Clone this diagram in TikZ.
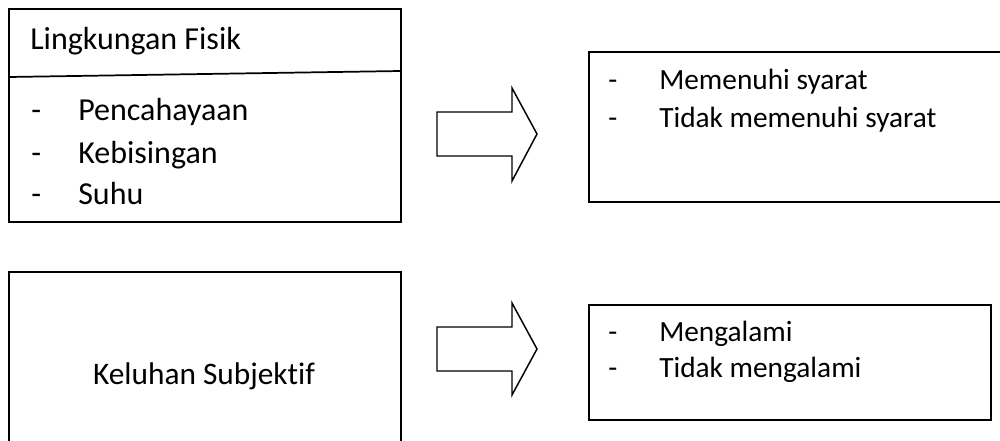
\documentclass[tikz,border=0pt]{standalone}
\usepackage{fontspec}
\setmainfont{Carlito}[Ligatures=NoCommon]
\begin{document}
\begin{tikzpicture}[x=0.75pt,y=-0.75pt,
  boxline/.style={line width=1.3pt,draw=black},
  txt/.style={anchor=base west,inner sep=0pt,font=\fontsize{24}{28}\selectfont},
  txtr/.style={anchor=base west,inner sep=0pt,font=\fontsize{22}{26}\selectfont},
  bigarrow/.style={line width=1.1pt,draw=black,fill=white,line join=miter}]
\useasboundingbox (0,0) rectangle (1000,441);
% Box 1
\draw[boxline] (9,9) rectangle (401,222);
\coordinate (d1) at (9,77);
\coordinate (d2) at (401,71);
\draw[boxline] (d1) -- (d2);
\node[txt] (t1) at (30,50) {Lingkungan Fisik};
\node[txt] (b1) at (31,121) {-};
\node[txt] (i1) at (78,121) {Pencahayaan};
\node[txt] (b2) at (31,164) {-};
\node[txt] (i2) at (78,164) {Kebisingan};
\node[txt] (b3) at (31,205) {-};
\node[txt] (i3) at (78,205) {Suhu};
% Arrow 1
\draw[bigarrow] (437,112) -- (512,112) -- (512,88) -- (537,134) -- (512,181) -- (512,156) -- (437,156) -- cycle;
% Box 2
\draw[boxline] (1003,52) -- (589,52) -- (589,202) -- (1003,202);
\node[txtr] (b4) at (608,90) {-};
\node[txtr] (i4) at (659,90) {Memenuhi syarat};
\node[txtr] (b5) at (608,128) {-};
\node[txtr] (i5) at (659,128) {Tidak memenuhi syarat};
% Box 3
\draw[boxline] (9,445) -- (9,272) -- (401,272) -- (401,445);
\node[txt,anchor=base,font=\fontsize{23.5}{28}\selectfont] (t3) at (204,385) {Keluhan Subjektif};
% Arrow 2
\draw[bigarrow] (437,327) -- (512,327) -- (512,303) -- (537,349) -- (512,395) -- (512,371) -- (437,371) -- cycle;
% Box 4
\draw[boxline] (589,305) rectangle (991,420);
\node[txtr] (b6) at (608,342) {-};
\node[txtr] (i6) at (659,342) {Mengalami};
\node[txtr] (b7) at (608,378) {-};
\node[txtr] (i7) at (659,378) {Tidak mengalami};
\end{tikzpicture}
\end{document}
